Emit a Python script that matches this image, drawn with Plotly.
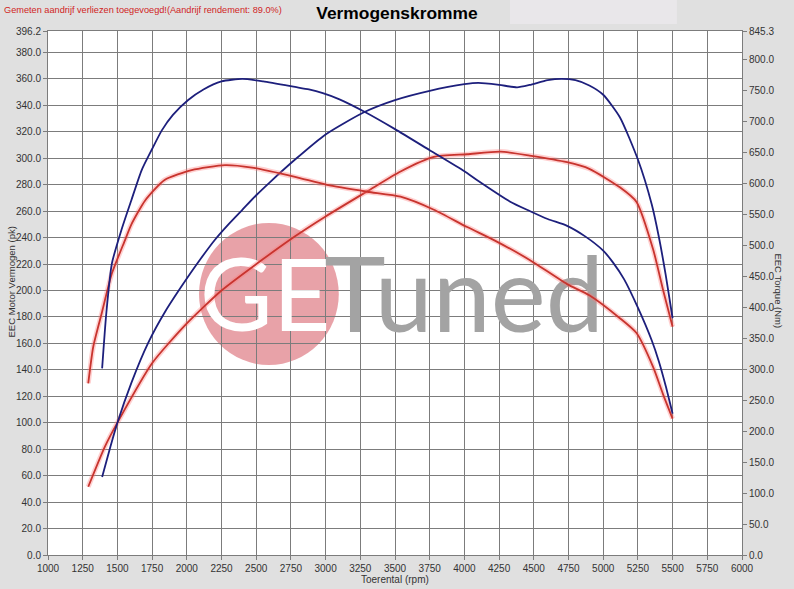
import plotly.graph_objects as go

# ---------------- data ----------------
RPM_MIN, RPM_MAX = 1000, 6000
PK_MAX = 396.2
NM_MAX = 845.3

rpm_ticks = list(range(1000, 6001, 250))
pk_ticks = [0, 20, 40, 60, 80, 100, 120, 140, 160, 180, 200, 220, 240, 260,
            280, 300, 320, 340, 360, 380, 396.2]
nm_ticks = [0, 50, 100, 150, 200, 250, 300, 350, 400, 450, 500, 550, 600,
            650, 700, 750, 800, 845.3]

# tuned (blue) power, pk
blue_power_rpm = [1390, 1450, 1500, 1600, 1720, 1850, 2000, 2100, 2200, 2300,
                  2400, 2500, 2600, 2780, 3000, 3280, 3500, 3750, 4000, 4100,
                  4250, 4380, 4470, 4600, 4700, 4800, 4900, 5000, 5120, 5250,
                  5350, 5400, 5450, 5500]
blue_power_pk = [59, 82, 100, 130, 160, 185, 209, 224, 238, 250,
                 261, 272, 282, 299, 318, 335, 344, 351, 356, 357,
                 355.5, 353.6, 355.4, 359, 360, 359, 355, 348, 331, 299,
                 265, 241, 212, 179]

# tuned (blue) torque, Nm
blue_torque_rpm = [1390, 1420, 1460, 1530, 1600, 1675, 1750, 1820, 1900, 2010,
                   2120, 2250, 2400, 2550, 2780, 2880, 2980, 3100, 3280, 3500,
                   3750, 4000, 4090, 4330, 4470, 4600, 4740, 4870, 5000, 5070,
                   5150, 5250, 5350, 5400, 5450, 5500]
blue_torque_nm = [301, 390, 470, 525, 572, 621, 655, 685, 710, 734,
                  751, 764, 768, 764, 755, 751, 745, 735, 715, 687,
                  653, 619, 605, 570, 555, 542, 531, 514, 491, 472,
                  445, 399, 346, 313, 273, 228]

# stock (red) power, pk
red_power_rpm = [1290, 1410, 1510, 1750, 1990, 2250, 2540, 2780, 3000, 3300,
                 3540, 3780, 4020, 4260, 4470, 4740, 4900, 5120, 5240, 5360,
                 5430, 5500]
red_power_pk = [51.6, 82, 102, 145, 174, 200, 223, 241, 256, 275,
                290, 301, 303, 305, 302, 297, 292, 278, 267, 231,
                201, 172.6]

# stock (red) torque, Nm
red_torque_rpm = [1290, 1326, 1387, 1460, 1555, 1600, 1700, 1840, 2035, 2275,
                  2470, 2780, 3010, 3300, 3540, 3780, 4020, 4230, 4470, 4740,
                  4900, 5120, 5240, 5360, 5430, 5500]
red_torque_nm = [277, 336, 390, 454, 508, 533, 572, 605, 621, 629,
                 625, 610, 597, 586, 578, 557, 529, 506, 476, 437,
                 419, 382, 358, 303, 260, 220]

TITLE = "Vermogenskromme"
NOTE = "Gemeten aandrijf verliezen toegevoegd!(Aandrijf rendement: 89.0%)"

# ---------------- styling ----------------
BLUE = "#1d1f7c"
RED = "#c8342e"
HALO = "rgba(255,120,120,0.35)"
GRID = "#7c7c7c"
TXT = "#333333"
FONT = "Liberation Sans"
SMOOTH = 0.6

fig = go.Figure()

# logo text (drawn first so the curves go over it), placed by axis fractions
def fx(f):
    return RPM_MIN + f * (RPM_MAX - RPM_MIN)

def fy(f):
    return f * PK_MAX

fig.add_trace(go.Scatter(x=[fx(0.313)], y=[fy(0.476)], mode="text", text=["GE"],
                         textposition="middle center",
                         textfont=dict(family="Lato", size=100, color="white"),
                         hoverinfo="skip", showlegend=False))
fig.add_trace(go.Scatter(x=[fx(0.398)], y=[fy(0.476)], mode="text", text=["Tuned"],
                         textposition="middle right",
                         textfont=dict(family="Lato", size=104, color="#a3a3a3"),
                         hoverinfo="skip", showlegend=False))

def curve(x, y, color, yaxis, halo=False):
    if halo:
        fig.add_trace(go.Scatter(x=x, y=y, mode="lines", yaxis=yaxis,
                                 line=dict(color=HALO, width=5, shape="spline", smoothing=SMOOTH),
                                 hoverinfo="skip", showlegend=False))
    fig.add_trace(go.Scatter(x=x, y=y, mode="lines", yaxis=yaxis,
                             line=dict(color=color, width=1.8, shape="spline", smoothing=SMOOTH),
                             showlegend=False))

curve(red_power_rpm, red_power_pk, RED, "y", halo=True)
curve(blue_power_rpm, blue_power_pk, BLUE, "y")
curve(red_torque_rpm, red_torque_nm, RED, "y2", halo=True)
curve(blue_torque_rpm, blue_torque_nm, BLUE, "y2")

fig.update_layout(
    width=794, height=589,
    margin=dict(l=48, r=52, t=31, b=34),
    paper_bgcolor="#e0e0e0",
    plot_bgcolor="white",
    font=dict(family=FONT, size=10, color=TXT),
    title=dict(text="<b>" + TITLE + "</b>", x=0.5, xanchor="center",
               y=1 - 13 / 589, yanchor="middle", yref="container",
               font=dict(family=FONT, size=17.4, color="black")),
    xaxis=dict(range=[RPM_MIN, RPM_MAX], tickvals=rpm_ticks,
               ticktext=[str(v) for v in rpm_ticks],
               showgrid=True, gridcolor=GRID, gridwidth=1,
               ticks="outside", ticklen=4, tickcolor=GRID,
               showline=True, linecolor=GRID, mirror=True,
               zeroline=False, tickfont=dict(size=10, color=TXT)),
    yaxis=dict(range=[0, PK_MAX], tickvals=pk_ticks,
               ticktext=[f"{v:.1f}" for v in pk_ticks],
               showgrid=True, gridcolor=GRID, gridwidth=1,
               ticks="outside", ticklen=4, tickcolor=GRID,
               showline=True, linecolor=GRID, mirror=True,
               zeroline=False, tickfont=dict(size=10, color=TXT)),
    yaxis2=dict(range=[0, NM_MAX], tickvals=nm_ticks,
                ticktext=[f"{v:.1f}" for v in nm_ticks],
                overlaying="y", side="right", showgrid=False,
                ticks="outside", ticklen=4, tickcolor=GRID,
                zeroline=False, tickfont=dict(size=10, color=TXT)),
    shapes=[
        dict(type="circle", xref="paper", yref="paper",
             x0=0.2176, x1=0.419, y0=0.3626, y1=0.6336,
             fillcolor="rgba(215,95,105,0.58)", line=dict(width=0), layer="below"),
        dict(type="rect", xref="paper", yref="paper",
             x0=0.6657, x1=0.9063, y0=1.0134, y1=1.0592,
             fillcolor="#e9e7ea", line=dict(width=0), layer="below"),
    ],
    annotations=[
        dict(text=NOTE, xref="paper", yref="paper", x=-46 / 694, y=1 + 21 / 524,
             xanchor="left", yanchor="middle", showarrow=False,
             font=dict(family=FONT, size=9.2, color="#d02424")),
        dict(text="EEC Motor Vermogen (pk)", xref="paper", yref="paper",
             x=-36 / 694, y=0.52, xanchor="center", yanchor="middle",
             textangle=-90, showarrow=False, font=dict(family=FONT, size=9.5, color=TXT)),
        dict(text="EEC Torque (Nm)", xref="paper", yref="paper",
             x=1 + 37 / 694, y=0.505, xanchor="center", yanchor="middle",
             textangle=90, showarrow=False, font=dict(family=FONT, size=9.5, color=TXT)),
        dict(text="Toerental (rpm)", xref="paper", yref="paper",
             x=0.5, y=-24 / 524, xanchor="center", yanchor="middle",
             showarrow=False, font=dict(family=FONT, size=10, color=TXT)),
    ],
)

fig.write_html("out.html",
               config={"displayModeBar": False},
               post_script="document.body.style.margin='0';document.body.style.background='#e0e0e0';")
